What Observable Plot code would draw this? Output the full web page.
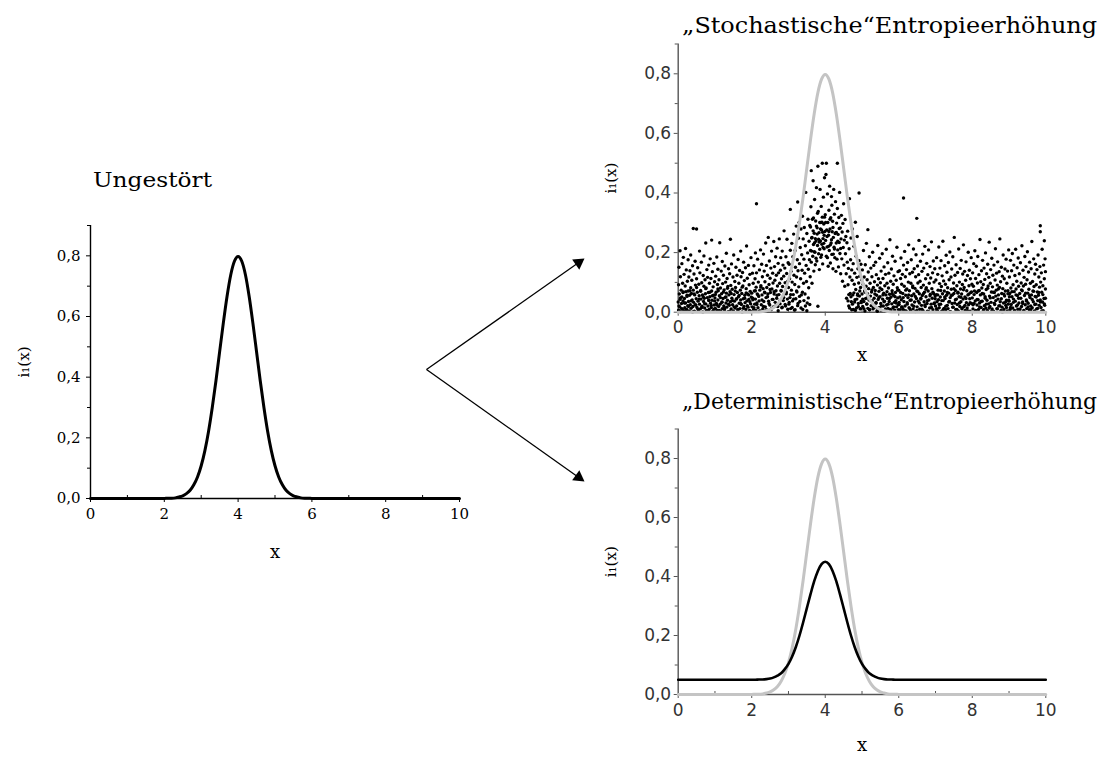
<!DOCTYPE html>
<html>
<head>
<meta charset="utf-8">
<script src="https://cdn.jsdelivr.net/npm/d3@7"></script>
<script src="https://cdn.jsdelivr.net/npm/@observablehq/plot@0.6"></script>
<style>
  body { margin: 0; background: #fff; }
  #root { position: relative; width: 1112px; height: 758px; overflow: hidden; background: #fff; }
  .panel { position: absolute; }
</style>
</head>
<body>
<div id="root"></div>
<script>
// ---------------- data ----------------
const panelTitles = ["Ungestört", "„Stochastische“Entropieerhöhung", "„Deterministische“Entropieerhöhung"];
const xLabel = "x";
const yLabel = "i₁(x)";
const yTicks = [0, 0.2, 0.4, 0.6, 0.8];
const yMinorTicks = [0.1, 0.3, 0.5, 0.7, 0.9];
const xTicks = [0, 2, 4, 6, 8, 10];
const xMinorTicks = [1, 3, 5, 7, 9];

// curve sample positions
const curveX = [0, 2.0, 2.1, 2.2, 2.3, 2.4, 2.5, 2.6, 2.7, 2.8, 2.9, 3.0, 3.1, 3.2, 3.3, 3.4, 3.5, 3.6, 3.7, 3.8, 3.9, 4.0,
  4.1, 4.2, 4.3, 4.4, 4.5, 4.6, 4.7, 4.8, 4.9, 5.0, 5.1, 5.2, 5.3, 5.4, 5.5, 5.6, 5.7, 5.8, 5.9, 6.0, 10];
// undisturbed distribution (black left, grey right)
const undisturbedY = [0, 0.000, 0.001, 0.001, 0.002, 0.005, 0.009, 0.016, 0.027, 0.045, 0.071, 0.108, 0.158, 0.222, 0.300, 0.388, 0.484, 0.579, 0.666, 0.737, 0.782, 0.798,
  0.782, 0.737, 0.666, 0.579, 0.484, 0.388, 0.300, 0.222, 0.158, 0.108, 0.071, 0.045, 0.027, 0.016, 0.009, 0.005, 0.002, 0.001, 0.001, 0.000, 0];
// deterministic spread (black, bottom right)
const deterministicY = [0.050, 0.050, 0.050, 0.051, 0.051, 0.052, 0.054, 0.058, 0.064, 0.072, 0.086, 0.104, 0.129, 0.161, 0.200, 0.245, 0.293, 0.340, 0.384, 0.419, 0.442, 0.450,
  0.442, 0.419, 0.384, 0.340, 0.293, 0.245, 0.200, 0.161, 0.129, 0.104, 0.086, 0.072, 0.064, 0.058, 0.054, 0.052, 0.051, 0.051, 0.050, 0.050, 0.050];

// stochastic scatter, one string per unit of x: tokens "XXYYY" = x hundredths within the unit, y thousandths
const scatterByUnit = [
"00034 01092 01007 02151 03061 04018 05206 05043 06119 07002 08074 09029 10163 10051 11011 12097 13038 14184 14068 15005 16127 17046 18015 19088 20214 20031 21069 22142 23009 24053 25104 26022 27176 27071 28036 29118 30004 31057 32139 33025 34082 34192 35013 36063 37107 38041 39156 40019 41281 41074 42033 43128 44003 45058 46171 47091 48024 49045 50279 50112 51016 52067 53149 54037 55008 56094 57055 58205 58027 59132 60011 61073 62044 63168 64099 65020 66058 67001 68123 69036 70087 70189 71047 72014 73109 74062 75232 75028 76081 77006 78143 79049 80117 81021 82066 83158 83039 84009 85097 86052 87179 88030 89113 90016 91071 91242 92040 93136 94003 95085 96057 97164 98024 99102",
"00048 01013 02121 03067 04029 05185 06006 07093 08041 08144 09072 10019 11109 12055 13233 14027 15081 16003 17138 18062 19034 20170 20012 21096 22046 23124 24021 25075 26008 27155 28050 29101 30031 31198 31064 32017 33113 34040 35086 36002 37146 38058 39023 40129 41069 42245 42035 43090 44011 45162 46047 47077 48025 49118 50004 51192 52059 53037 54103 55014 56083 57151 58044 59021 60124 61066 62008 63177 64052 65097 66030 67140 68012 69074 70205 70041 71119 72026 73063 74001 75133 76088 77045 78168 79019 80106 81057 82032 83149 84009 85079 86222 87038 88114 89061 90017 91157 92043 93092 94006 95127 96070 97028 98183 99050",
"00064 01018 02131 03042 04097 05009 06156 07071 08027 09112 10199 10044 11006 12084 13364 13132 14031 15061 16178 17015 18101 19053 20038 21142 22074 23004 24209 25089 26025 27161 28058 29119 30011 31079 32195 33036 34138 35067 36102 37018 38232 39049 40157 41083 42007 43124 44061 45251 46037 47093 48172 49024 50114 51066 52148 53009 54205 55078 56043 57131 58098 59018 60237 61061 62153 63107 64033 65186 66072 67124 68047 69215 70088 71019 72164 73132 74059 75246 76097 77028 78141 79183 80071 81112 82015 83205 84086 85158 86039 87121 88273 89062 90148 91099 92021 93186 94067 95130 96245 97044 98104 99166",
"00083 01027 02161 03112 04049 05345 05208 06012 07137 08074 09231 10101 11038 12186 13059 14262 15124 16007 17093 18207 19151 20045 21289 22118 23068 24176 25370 25022 26139 27248 28085 29301 30163 31036 32217 33112 34279 35058 36193 37141 38322 39009 40246 41097 42178 43284 44131 45061 46223 47402 48157 49103 50264 51031 52199 53312 54144 55082 56238 57176 58291 59119 60207 61354 62475 62168 63249 64097 65312 66188 67441 68227 69138 70265 71378 72201 73159 74306 75239 76418 77172 78283 79224 80020 80490 81338 82196 83267 84143 85301 86412 87239 88184 89355 90276 91228 92500 92319 93162 94247 95386 96296 97213 98451 99271 60286 64251 68316 70203 73247 76289 79332 82245 85211 88301 90192 93268 96231 98319 63205 67273 71233 75181 78262 84235 87279 91302 94217 97258",
"00327 01241 02462 03500 03188 04276 05219 06397 07301 08154 09258 10342 11207 12423 13279 14165 15317 16232 17388 18194 19270 20305 21146 22251 23412 24218 25329 26183 27264 28371 29137 30232 31299 32178 33500 33348 34209 35261 36152 37318 38234 39402 40197 41283 42129 43246 44325 45179 46269 47104 48298 49217 50364 51158 52242 53087 54311 55196 56254 57129 58047 59233 60168 61272 62092 63147 64021 65213 66381 67118 68063 69176 70249 71035 72142 73107 74279 75058 76163 77009 78221 79094 80131 81042 82302 83076 84188 85014 86117 87254 88061 89146 90029 91098 92400 92173 93054 94121 95011 96083 97161 98037 99109 01301 05254 09221 13312 17243 21284 25212 29267 34238 38281 42214 06183 14226 22195 30268 10271 18359",
"00061 01142 02019 03093 04207 05036 06118 07071 08004 09159 10046 11087 12231 13027 14109 15062 16277 16013 17135 18079 19041 20186 21008 22097 23054 24148 25022 26068 27119 28039 29201 30011 31083 32157 33047 34102 35017 36073 37168 38030 39126 40057 41005 42091 43224 44043 45112 46070 47016 48181 49052 50099 51029 52138 53006 54076 55196 56044 57113 58021 59064 60152 61037 62089 63003 64127 65058 66211 67024 68097 69047 70166 71013 72081 73131 74036 75060 76243 77009 78104 79051 80145 81028 82072 83188 84014 85094 86056 87122 88033 89007 90171 91066 92039 93107 94018 95218 96082 97048 98136 99025",
"00074 01026 02139 03051 04008 05113 06182 07042 08094 09017 10127 11063 12009 13383 13158 14036 15087 16204 17021 18119 19057 20004 21143 22078 23032 24167 25049 26101 27226 28015 29072 30129 31040 32006 33097 34176 35055 36024 37134 38088 39011 40212 41061 42146 43034 44080 45002 46119 47193 48046 49315 49071 50018 51155 52098 53037 54126 55241 56062 57010 58104 59171 60044 61083 62023 63137 64056 65195 66005 67091 68148 69035 70067 71221 72019 73112 74052 75082 76164 77029 78003 79126 80071 81209 82041 83097 84014 85153 86060 87115 88027 89236 90079 91047 92132 93008 94172 95062 96101 97031 98146 99054",
"00021 01108 02059 03183 04035 05006 06127 07074 08042 09219 10015 11096 12148 13051 14027 15173 16086 17003 18122 19062 20238 21039 22105 23013 24071 25156 26046 27094 28008 29191 30057 31134 32023 33082 34012 35167 36064 37109 38036 39202 40049 41002 42118 43077 44145 45029 46058 47186 48017 49098 50063 51251 52031 53124 54073 55009 56159 57044 58089 59026 60133 61067 62004 63212 64052 65101 66019 67147 68078 69035 70174 71061 72011 73093 74128 75044 76226 77018 78083 79137 80051 81006 82107 83169 84032 85072 86014 87123 88058 89201 90025 91089 92141 93045 94003 95112 96066 97183 98029 99094",
"00048 01132 02011 03087 04163 05029 06071 07206 08038 09113 10005 11154 12066 13024 14098 15187 16042 17009 18126 19073 20031 21244 22058 23102 24016 25139 26081 27037 28174 29002 30093 31061 32148 33022 34110 35047 36199 37014 38076 39129 40040 41006 42161 43088 44028 45117 46235 47054 48019 49097 50143 51033 52068 53181 54011 55085 56124 57049 58003 59158 60066 61026 62108 63213 64039 65074 66131 67012 68091 69169 70044 71058 72021 73136 74083 75246 76035 77102 78006 79151 80063 81017 82121 83079 84192 85031 86009 87112 88054 89145 90071 91023 92178 93040 94097 95004 96138 97062 98027 99209",
"00037 01118 02063 03009 04174 05081 06026 07139 08052 09197 10014 11092 12044 13158 14069 15003 16123 17037 18211 19078 20021 21104 22149 23056 24010 25182 26087 27031 28129 29063 30002 31166 32047 33098 34019 35223 36072 37034 38141 39088 40006 41117 42056 43187 44025 45094 46153 47041 48012 49109 50203 51064 52030 53135 54077 55008 56168 57049 58097 59021 60146 61058 62237 63015 64103 65071 66035 67179 68086 69004 70128 71053 72161 73027 74092 75011 76143 77068 78039 79192 80057 81118 82023 83084 84153 85290 85270 85041 86101 87016 88132 89067 90211 91034 92089 93005 94158 95046 96240 96112 97023 98179 99078 99136"
];
// extra points of the dense band near the x axis, same token format
const scatterBandByUnit = [
"02021 06048 09012 13066 17031 21004 24057 28019 32072 35038 39001 43061 46025 50083 54009 57044 61070 64016 68052 72028 75079 79005 83041 86067 90023 93055 97010 99038",
"01059 05024 08078 12006 15049 19033 23068 26014 30051 34080 37027 41003 44063 48039 52018 55071 59045 63008 66056 70029 74084 77013 81047 85065 88022 92058 95035 98002",
"03047 06015 10072 14026 17058 21003 25084 28041 32019 36065 39008 43052 47029 50076 54012 58043 61069 65021 69057 72005 76038 80073 83017 87049 91026 94062 98010",
"02033 06059 10016 14044 18008 22071 26029 30053 34014 38067 42039 46021 50005 54048 58026",
"62038 66014 70052 74027 78065 82006 86044 90019 94071 98032 64059 72008 80034 88057 96012",
"02044 05012 09067 13028 16052 20009 24038 27075 31016 35061 38033 42003 46049 49081 53021 57058 60035 64011 68069 71027 75046 79004 82063 86018 90052 93031 97074 99008",
"01033 05066 08018 12049 16005 19074 23027 27058 30012 34041 38083 41020 45053 49006 52069 56031 60047 63010 67062 71024 74077 78039 82002 85055 89016 93067 96029 99045",
"03012 06058 10026 14073 17039 21008 25051 28020 32066 36034 39002 43056 47017 50079 54042 58009 61064 65031 69050 72014 76075 80023 83046 87005 91061 94032 98068",
"02025 05059 09006 13043 16071 20018 24036 27063 31009 35052 38027 42080 46014 49048 53003 57067 60030 64054 68011 71078 75022 79045 82001 86060 90033 93016 97072 99040",
"01052 04016 08069 12033 15006 19058 23024 26047 30011 34075 37029 41002 45064 48037 52018 56056 59008 63043 67070 70026 74051 78013 81066 85034 89004 92059 96028 99047"
];

// ---------------- derived tables ----------------
const undisturbed = curveX.map((x, i) => ({x, y: undisturbedY[i]}));
const deterministic = curveX.map((x, i) => ({x, y: deterministicY[i]}));
const scatter = [];
[scatterByUnit, scatterBandByUnit].forEach(list => list.forEach((s, unit) => {
  s.trim().split(/\s+/).forEach(t => scatter.push({x: unit + (+t.slice(0, 2)) / 100, y: (+t.slice(2)) / 1000}));
}));

// ---------------- layout ----------------
const root = document.getElementById("root");
const SERIF = "'DejaVu Serif', 'Liberation Serif', serif";
const SANS = "'DejaVu Sans', Verdana, sans-serif";
const fmtY = d => d3.format(".1f")(d).replace(".", ",");
const GREY = "#c4c4c4";

function panel(cfg) {
  const marks = [
    Plot.ruleX([0], {stroke: cfg.axisColor, strokeWidth: 1.4}),
    Plot.ruleY([0], {stroke: cfg.axisColor, strokeWidth: 1.4}),
    Plot.axisY({ticks: yTicks, tickFormat: fmtY, tickSize: 4, tickPadding: cfg.yPad, label: null,
      fontFamily: cfg.tickFont, fontSize: cfg.tickSize, stroke: cfg.axisColor, fill: cfg.tickColor}),
    Plot.axisY({ticks: yMinorTicks, tickFormat: () => "", tickSize: 3, label: null, stroke: cfg.axisColor}),
    Plot.axisX({ticks: xTicks, tickFormat: d => String(d), tickSize: 4, tickPadding: cfg.xPad, label: null,
      fontFamily: cfg.tickFont, fontSize: cfg.tickSize, stroke: cfg.axisColor, fill: cfg.tickColor}),
    Plot.axisX({ticks: xMinorTicks, tickFormat: () => "", tickSize: -3, label: null, stroke: cfg.axisColor}),
    ...cfg.marks,
    Plot.text([xLabel], {frameAnchor: "bottom", dy: cfg.xLabelDy, fontFamily: SERIF, fontSize: 18, fill: "#000", lineAnchor: "middle"}),
    Plot.text([yLabel], {frameAnchor: "left", dx: cfg.yLabelDx, rotate: -90, fontFamily: SERIF, fontSize: 15, fill: "#000", lineAnchor: "middle", textAnchor: "middle"})
  ];
  const chart = Plot.plot({
    width: cfg.width, height: cfg.height,
    marginLeft: cfg.mL, marginRight: cfg.mR, marginTop: cfg.mT, marginBottom: cfg.mB,
    x: {domain: [0, 10]},
    y: {domain: [0, 0.9]},
    style: {background: "transparent", overflow: "visible", color: cfg.axisColor},
    marks
  });
  chart.classList.add("panel");
  chart.style.left = cfg.left + "px";
  chart.style.top = cfg.top + "px";
  root.appendChild(chart);
}

// Left: undisturbed
panel({
  left: 0, top: 200, width: 500, height: 380, mL: 90, mR: 41, mT: 25, mB: 82,
  axisColor: "#000", tickColor: "#000", tickFont: SERIF, tickSize: 15, yPad: 6, xPad: 6,
  xLabelDy: 54, yLabelDx: -66,
  marks: [Plot.line(undisturbed, {x: "x", y: "y", stroke: "#000", strokeWidth: 3, curve: "monotone-x"})]
});

// Top right: stochastic
panel({
  left: 580, top: 30, width: 532, height: 340, mL: 97.7, mR: 66.7, mT: 13.5, mB: 58.3,
  axisColor: "#555", tickColor: "#333", tickFont: SANS, tickSize: 17, yPad: 3, xPad: 5,
  xLabelDy: 43, yLabelDx: -67,
  marks: [
    Plot.dot(scatter, {x: "x", y: "y", r: 1.7, fill: "#000", stroke: "none"}),
    Plot.line(undisturbed, {x: "x", y: "y", stroke: GREY, strokeWidth: 3, curve: "monotone-x"})
  ]
});

// Bottom right: deterministic
panel({
  left: 580, top: 400, width: 532, height: 358, mL: 97.7, mR: 66.7, mT: 28.5, mB: 64,
  axisColor: "#555", tickColor: "#333", tickFont: SANS, tickSize: 17, yPad: 3, xPad: 5,
  xLabelDy: 51, yLabelDx: -67,
  marks: [
    Plot.line(undisturbed, {x: "x", y: "y", stroke: GREY, strokeWidth: 3, curve: "monotone-x"}),
    Plot.line(deterministic, {x: "x", y: "y", stroke: "#000", strokeWidth: 2.6, curve: "monotone-x"})
  ]
});

// Arrows (annotation overlay in page pixels)
const arrowGeometry = [
  {x1: 426, y1: 369, x2: 584, y2: 258},
  {x1: 426, y1: 369, x2: 584, y2: 481}
];
const headR = 4.6;
const headOffset = 2 * Math.sqrt((Math.PI * headR * headR) / (3 * Math.sqrt(3)));
const heads = arrowGeometry.map(a => {
  const dx = a.x2 - a.x1, dy = a.y2 - a.y1, len = Math.hypot(dx, dy);
  const ux = dx / len, uy = dy / len;
  return {x: a.x2 - ux * headOffset, y: a.y2 - uy * headOffset, angle: Math.atan2(ux, -uy) * 180 / Math.PI};
});
const shorten = (a, k) => { const len = Math.hypot(a.x2 - a.x1, a.y2 - a.y1); return k === "x" ? a.x2 - (a.x2 - a.x1) / len * 4 : a.y2 - (a.y2 - a.y1) / len * 4; };
const overlay = Plot.plot({
  width: 1112, height: 758, margin: 0,
  x: {type: "identity"}, y: {type: "identity"},
  axis: null,
  style: {background: "transparent", pointerEvents: "none", overflow: "visible"},
  marks: [
    Plot.link(arrowGeometry, {x1: "x1", y1: "y1", x2: d => shorten(d, "x"), y2: d => shorten(d, "y"), stroke: "#000", strokeWidth: 1.3}),
    Plot.dot(heads, {x: "x", y: "y", symbol: "triangle", r: headR, fill: "#000", stroke: "none", rotate: "angle"})
  ]
});
overlay.style.position = "absolute";
overlay.style.left = "0px";
overlay.style.top = "0px";
root.appendChild(overlay);

// Panel titles (real text, fitted to the reference widths)
const titleLayout = [
  {x: 93, y: 187, size: 21, width: 119},
  {x: 682, y: 33, size: 22, width: 415},
  {x: 682, y: 409, size: 22, width: 415}
];
const ov = d3.select(overlay);
titleLayout.forEach((t, i) => {
  ov.append("text")
    .attr("x", t.x).attr("y", t.y)
    .attr("text-anchor", "start")
    .attr("font-family", SERIF).attr("font-size", t.size)
    .attr("fill", "#000")
    .attr("textLength", t.width).attr("lengthAdjust", "spacingAndGlyphs")
    .text(panelTitles[i]);
});
</script>
</body>
</html>
